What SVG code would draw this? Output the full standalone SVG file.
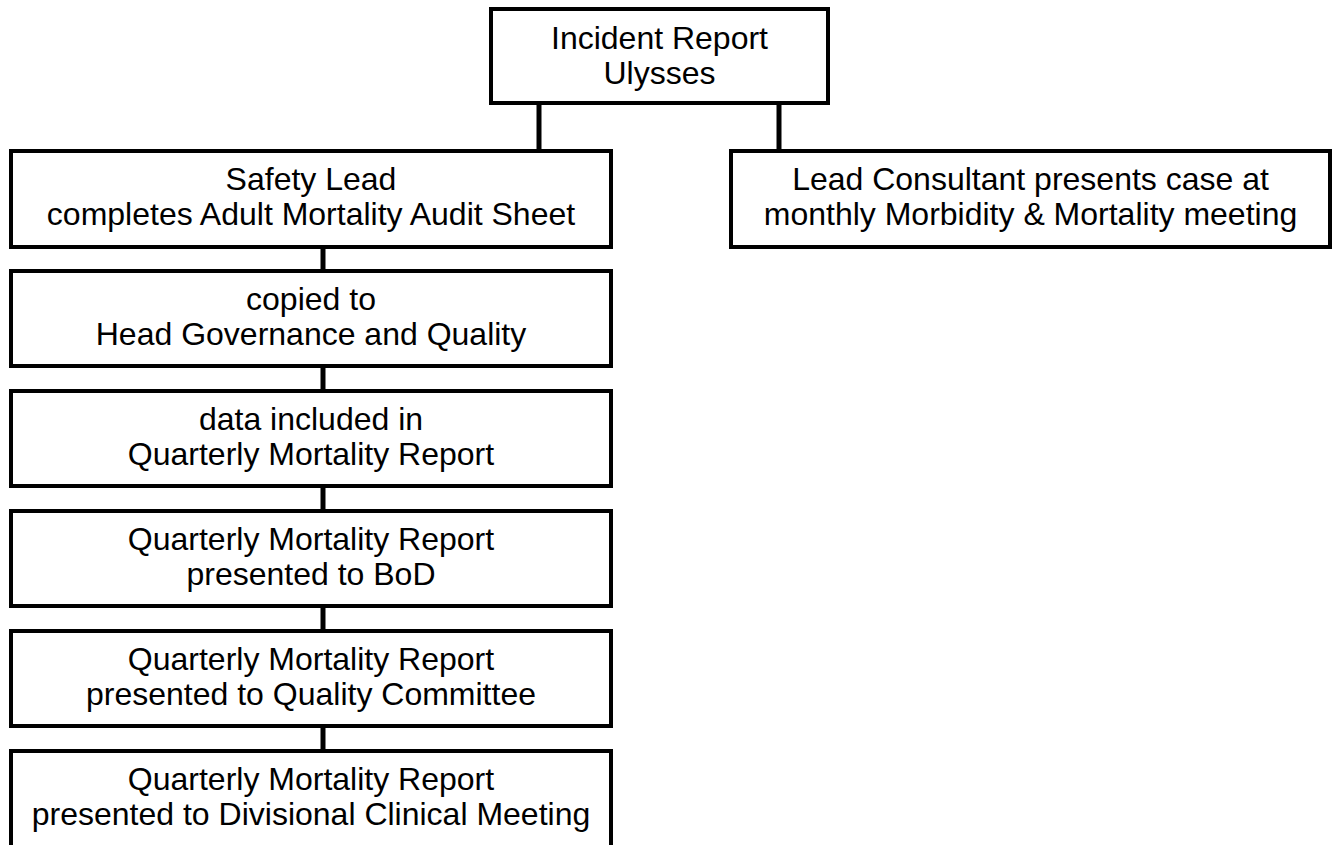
<svg xmlns="http://www.w3.org/2000/svg" width="1337" height="845" viewBox="0 0 1337 845">
<style>
.box{fill:#fff;stroke:#000;stroke-width:4}
.lbl{font-family:"Liberation Sans",Arial,sans-serif;font-size:32px;fill:#000;text-anchor:middle}
.con{stroke:#000;stroke-width:5;fill:none}
</style>
<rect width="1337" height="845" fill="#fff"/>
<g id="connectors">
<line class="con" x1="539" y1="103" x2="539" y2="151"/>
<line class="con" x1="779" y1="103" x2="779" y2="151"/>
<line class="con" x1="323" y1="247" x2="323" y2="271"/>
<line class="con" x1="323" y1="366" x2="323" y2="391"/>
<line class="con" x1="323" y1="486" x2="323" y2="511"/>
<line class="con" x1="323" y1="606" x2="323" y2="631"/>
<line class="con" x1="323" y1="726" x2="323" y2="751"/>
</g>
<g id="incident">
<rect class="box" x="491" y="9" width="337" height="94"/>
<text class="lbl" x="659.5" y="49">Incident Report</text>
<text class="lbl" x="659.5" y="84">Ulysses</text>
</g>
<g id="safety">
<rect class="box" x="11" y="151" width="600" height="96"/>
<text class="lbl" x="311" y="190">Safety Lead</text>
<text class="lbl" x="311" y="225">completes Adult Mortality Audit Sheet</text>
</g>
<g id="consultant">
<rect class="box" x="731" y="151" width="599" height="96"/>
<text class="lbl" x="1030.5" y="190">Lead Consultant presents case at</text>
<text class="lbl" x="1030.5" y="225">monthly Morbidity &amp; Mortality meeting</text>
</g>
<g id="copied">
<rect class="box" x="11" y="271" width="600" height="95"/>
<text class="lbl" x="311" y="310">copied to</text>
<text class="lbl" x="311" y="345">Head Governance and Quality</text>
</g>
<g id="data">
<rect class="box" x="11" y="391" width="600" height="95"/>
<text class="lbl" x="311" y="430">data included in</text>
<text class="lbl" x="311" y="465">Quarterly Mortality Report</text>
</g>
<g id="bod">
<rect class="box" x="11" y="511" width="600" height="95"/>
<text class="lbl" x="311" y="550">Quarterly Mortality Report</text>
<text class="lbl" x="311" y="585">presented to BoD</text>
</g>
<g id="quality">
<rect class="box" x="11" y="631" width="600" height="95"/>
<text class="lbl" x="311" y="670">Quarterly Mortality Report</text>
<text class="lbl" x="311" y="705">presented to Quality Committee</text>
</g>
<g id="divisional">
<rect class="box" x="11" y="751" width="600" height="96"/>
<text class="lbl" x="311" y="790">Quarterly Mortality Report</text>
<text class="lbl" x="311" y="825">presented to Divisional Clinical Meeting</text>
</g>
</svg>
